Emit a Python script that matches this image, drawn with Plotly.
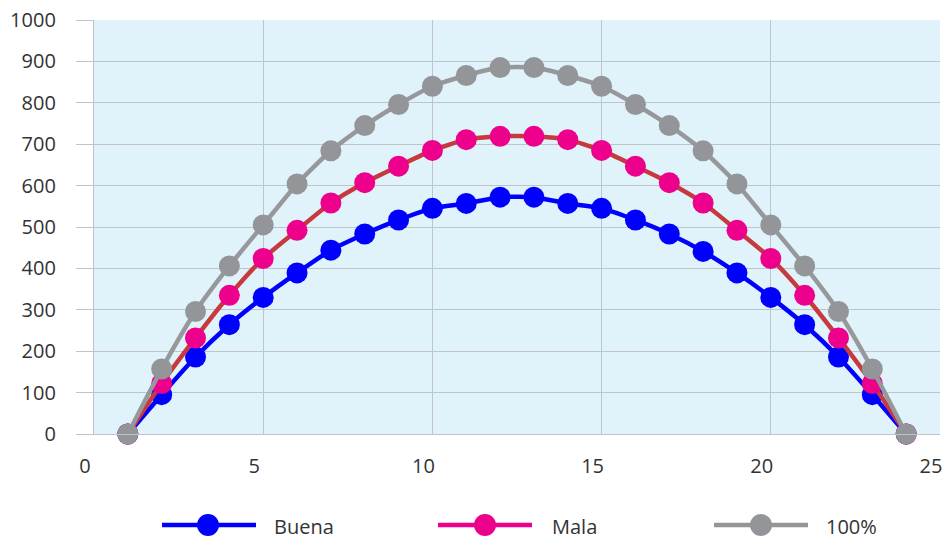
import plotly.graph_objects as go

# ---- data ----
x_vals = list(range(1, 25))
buena = [0, 95, 186, 264, 330, 389, 444, 483, 517, 545, 557, 572,
         572, 557, 545, 517, 483, 441, 389, 330, 264, 186, 95, 0]
mala = [0, 122, 232, 335, 424, 492, 558, 607, 647, 685, 711, 719,
        719, 711, 685, 647, 607, 558, 492, 424, 335, 232, 122, 0]
cien = [0, 157, 296, 406, 505, 604, 684, 745, 796, 840, 866, 885,
        885, 866, 840, 796, 745, 684, 604, 505, 406, 296, 157, 0]
series_names = ["Buena", "Mala", "100%"]
x_ticks = [0, 5, 10, 15, 20, 25]
y_ticks = list(range(0, 1001, 100))

# ---- style ----
W, H = 943, 540
ML, MR, MT, MB = 94, 3, 20, 106
line_colors = ["#0000FF", "#C8393F", "#97989B"]
marker_colors = ["#0000FF", "#EC008C", "#939598"]
legend_line_colors = ["#0000FF", "#EC008C", "#939598"]
grid = "#C0C4C8"
txt = "#333333"
font = "Open Sans"

fig = go.Figure()
for name, ys, lc, mc in zip(series_names, [buena, mala, cien], line_colors, marker_colors):
    fig.add_trace(go.Scatter(
        x=x_vals, y=ys, name=name, mode="lines+markers",
        line=dict(color=lc, width=4.5, shape="spline", smoothing=0.6),
        marker=dict(color=mc, size=21, line=dict(width=0)),
        cliponaxis=False, showlegend=False,
    ))

# custom legend (long line glyphs like the original)
pw = W - ML - MR
ph = H - MT - MB
def px2x(p):
    return (p - ML) / pw
def px2y(p):
    return (H - MB - p) / ph

leg_y = 525
leg_items = [(162, 256, 208, 272), (438, 532, 485, 550), (714, 808, 761, 824)]
shapes = []
annotations = []
for (x0, x1, xm, xt), name, col in zip(leg_items, series_names, legend_line_colors):
    shapes.append(dict(type="line", xref="paper", yref="paper",
                       x0=px2x(x0), x1=px2x(x1), y0=px2y(leg_y), y1=px2y(leg_y),
                       line=dict(color=col, width=4.5)))
    shapes.append(dict(type="circle", xref="paper", yref="paper",
                       xsizemode="pixel", ysizemode="pixel",
                       xanchor=px2x(xm), yanchor=px2y(leg_y),
                       x0=-11, x1=11, y0=-11, y1=11,
                       fillcolor=col, line=dict(width=0)))
    annotations.append(dict(text=name, xref="paper", yref="paper",
                            x=px2x(xt), y=px2y(leg_y + 1), xanchor="left", yanchor="middle",
                            showarrow=False, font=dict(family=font, size=20, color=txt)))

fig.update_layout(
    width=W, height=H,
    margin=dict(l=ML, r=MR, t=MT, b=MB),
    paper_bgcolor="white", plot_bgcolor="#E0F3FA",
    font=dict(family=font, size=20, color=txt),
    shapes=shapes, annotations=annotations,
    showlegend=False,
)
fig.update_xaxes(
    range=[0, 25], tickvals=x_ticks, showgrid=True, gridcolor=grid, gridwidth=1.3,
    zeroline=False, showline=True, linecolor=grid, linewidth=1.3, automargin=False,
    ticks="", ticklabelstandoff=14, ticklabelshift=-9, ticklabeloverflow="allow",
    tickfont=dict(family=font, size=20, color=txt),
)
fig.update_yaxes(
    range=[0, 1000], tickvals=y_ticks, showgrid=True, gridcolor=grid, gridwidth=1.3,
    zeroline=False, showline=True, linecolor=grid, linewidth=1.3, automargin=False,
    ticks="outside", ticklen=17, tickcolor=grid, tickwidth=1.3,
    ticklabelstandoff=16, tickfont=dict(family=font, size=20, color=txt),
)

fig.write_html("out.html")
